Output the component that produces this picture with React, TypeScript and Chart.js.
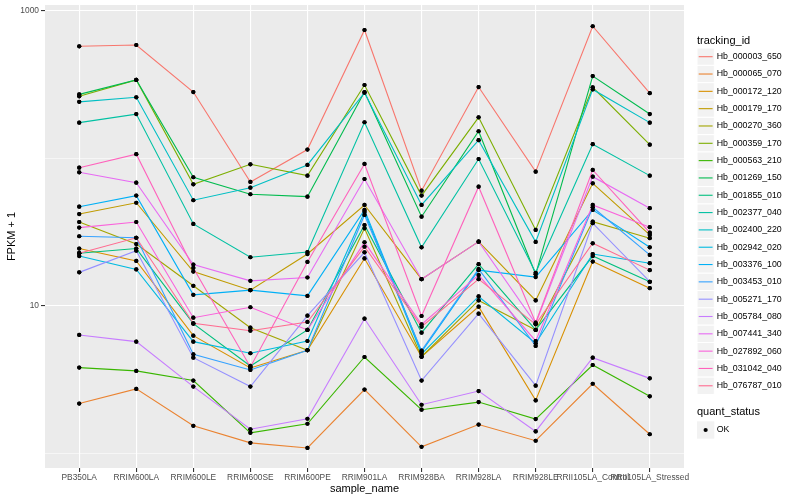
import React, { useEffect, useRef } from "react";
import { Chart, registerables } from "chart.js";

Chart.register(...registerables);

const FONT = '"Liberation Sans", Arial, Helvetica, sans-serif';

const categories = [
  "PB350LA",
  "RRIM600LA",
  "RRIM600LE",
  "RRIM600SE",
  "RRIM600PE",
  "RRIM901LA",
  "RRIM928BA",
  "RRIM928LA",
  "RRIM928LE",
  "RRII105LA_Control",
  "RRII105LA_Stressed",
];

const trackingIds = [
  "Hb_000003_650",
  "Hb_000065_070",
  "Hb_000172_120",
  "Hb_000179_170",
  "Hb_000270_360",
  "Hb_000359_170",
  "Hb_000563_210",
  "Hb_001269_150",
  "Hb_001855_010",
  "Hb_002377_040",
  "Hb_002400_220",
  "Hb_002942_020",
  "Hb_003376_100",
  "Hb_003453_010",
  "Hb_005271_170",
  "Hb_005784_080",
  "Hb_007441_340",
  "Hb_027892_060",
  "Hb_031042_040",
  "Hb_076787_010",
];

const seriesColors = [
  "#F8766D", "#EA8331", "#D89000", "#C09B00", "#A3A500",
  "#7CAE00", "#39B600", "#00BB4E", "#00BF7D", "#00C1A3",
  "#00BFC4", "#00BAE0", "#00B0F6", "#35A2FF", "#9590FF",
  "#C77CFF", "#E76BF3", "#FA62DB", "#FF62BC", "#FF6C91",
];

// FPKM + 1 values, one array per tracking_id, in category order
const hb_000003_650 = [576, 588, 282, 69.3, 115, 743, 60.5, 305, 81.4, 788, 277];
const hb_000065_070 = [2.18, 2.74, 1.54, 1.18, 1.09, 2.71, 1.11, 1.57, 1.22, 2.97, 1.35];
const hb_000172_120 = [24.5, 20.2, 6.29, 3.8, 5.01, 21.0, 4.53, 9.89, 2.29, 20.0, 13.2];
const hb_000179_170 = [42.0, 50.1, 17.1, 12.8, 22.5, 48.4, 15.2, 27.3, 10.9, 67.9, 30.3];
const hb_000270_360 = [37.1, 26.3, 13.7, 7.13, 5.01, 33.6, 4.53, 10.9, 6.88, 37.3, 28.8];
const hb_000359_170 = [264, 341, 66.8, 91.3, 76.5, 315, 56.0, 190, 32.8, 304, 124];
const hb_000563_210 = [3.82, 3.63, 3.12, 1.38, 1.59, 4.51, 1.98, 2.23, 1.71, 3.98, 2.44];
const hb_001269_150 = [272, 341, 74.6, 57.2, 55.1, 282, 40.3, 153, 16.4, 362, 200];
const hb_001855_010 = [22.8, 24.5, 7.59, 3.92, 6.88, 35.4, 6.59, 19.2, 6.88, 21.8, 14.6];
const hb_002377_040 = [175, 200, 36.0, 21.4, 23.2, 176, 25.0, 99.2, 16.8, 125, 76.5];
const hb_002400_220 = [242, 260, 52.1, 63.4, 90.4, 279, 48.4, 133, 27.2, 294, 175];
const hb_002942_020 = [21.8, 17.7, 5.73, 4.78, 5.79, 43.4, 4.73, 11.6, 5.59, 22.5, 19.5];
const hb_003376_100 = [47.1, 56.0, 11.9, 12.8, 11.7, 44.8, 4.88, 17.5, 15.7, 44.8, 25.0];
const hb_003453_010 = [29.7, 29.0, 4.7, 3.68, 5.01, 41.4, 4.98, 17.8, 5.36, 46.7, 22.2];
const hb_005271_170 = [16.9, 23.7, 4.46, 2.84, 8.6, 23.1, 3.12, 8.87, 2.88, 36.4, 14.6];
const hb_005784_080 = [6.36, 5.73, 2.84, 1.46, 1.72, 8.2, 2.14, 2.65, 1.41, 4.46, 3.23];
const hb_007441_340 = [80.6, 68.5, 19.1, 14.8, 15.6, 72.6, 15.2, 27.3, 7.61, 75.3, 46.0];
const hb_027892_060 = [34.0, 37.1, 8.33, 9.8, 6.88, 27.0, 7.51, 16.2, 5.79, 48.4, 34.2];
const hb_031042_040 = [86.6, 107, 18.1, 3.86, 19.9, 91.8, 8.55, 64.4, 7.7, 83.6, 31.4];
const hb_076787_010 = [22.8, 29.0, 7.63, 6.8, 7.79, 25.2, 7.24, 15.2, 7.51, 26.6, 17.5];

const seriesValues = [
  hb_000003_650, hb_000065_070, hb_000172_120, hb_000179_170, hb_000270_360,
  hb_000359_170, hb_000563_210, hb_001269_150, hb_001855_010, hb_002377_040,
  hb_002400_220, hb_002942_020, hb_003376_100, hb_003453_010, hb_005271_170,
  hb_005784_080, hb_007441_340, hb_027892_060, hb_031042_040, hb_076787_010,
];

const yGridValues = [1, 10, 100, 1000];
const yLabelled = [10, 1000];

const quantStatus = ["OK"];

export default function App() {
  const ref = useRef<HTMLCanvasElement | null>(null);

  useEffect(() => {
    const canvas = ref.current;
    if (!canvas) return;

    const datasets = seriesValues.map((vals, i) => ({
      label: trackingIds[i],
      data: vals.map((v, j) => ({ x: j, y: v })),
      borderColor: seriesColors[i],
      backgroundColor: seriesColors[i],
      borderWidth: 1.1,
      pointRadius: 2.1,
      pointHoverRadius: 2.1,
      pointBackgroundColor: "#000000",
      pointBorderColor: "#000000",
      pointBorderWidth: 0,
      tension: 0,
      fill: false,
      order: seriesValues.length - i,
    }));

    const panelPlugin = {
      id: "panelBg",
      beforeDraw(chart: any) {
        const { ctx, chartArea } = chart;
        ctx.save();
        ctx.fillStyle = "#FFFFFF";
        ctx.fillRect(0, 0, chart.width, chart.height);
        ctx.fillStyle = "#EBEBEB";
        ctx.fillRect(
          chartArea.left,
          chartArea.top,
          chartArea.right - chartArea.left,
          chartArea.bottom - chartArea.top
        );
        ctx.restore();
      },
    };

    const pointsOnTop = {
      id: "pointsOnTop",
      afterDatasetsDraw(chart: any) {
        const ctx = chart.ctx;
        ctx.save();
        chart.data.datasets.forEach((_: any, i: number) => {
          const meta = chart.getDatasetMeta(i);
          meta.data.forEach((el: any) => el.draw(ctx, chart.chartArea));
        });
        ctx.restore();
      },
    };

    const legendPlugin = {
      id: "ggLegend",
      afterDraw(chart: any) {
        const ctx = chart.ctx;
        const x0 = 697;
        const keySize = 17.3;
        ctx.save();
        ctx.textBaseline = "middle";
        ctx.textAlign = "left";
        ctx.fillStyle = "#000000";
        ctx.font = `11px ${FONT}`;
        ctx.fillText("tracking_id", x0, 40.5);
        trackingIds.forEach((id, i) => {
          const cy = 56.7 + i * 17.32;
          ctx.fillStyle = "#F2F2F2";
          ctx.fillRect(x0, cy - keySize / 2, keySize, keySize);
          ctx.strokeStyle = "#FFFFFF";
          ctx.lineWidth = 1;
          ctx.strokeRect(x0, cy - keySize / 2, keySize, keySize);
          ctx.strokeStyle = seriesColors[i];
          ctx.lineWidth = 1.1;
          ctx.beginPath();
          ctx.moveTo(x0 + 1.7, cy);
          ctx.lineTo(x0 + keySize - 1.7, cy);
          ctx.stroke();
          ctx.fillStyle = "#000000";
          ctx.font = `8.8px ${FONT}`;
          ctx.fillText(id, 716.7, cy);
        });
        ctx.font = `11px ${FONT}`;
        ctx.fillStyle = "#000000";
        ctx.fillText("quant_status", x0, 412.3);
        quantStatus.forEach((s, i) => {
          const cy = 430 + i * 17.32;
          ctx.fillStyle = "#F2F2F2";
          ctx.fillRect(x0, cy - keySize / 2, keySize, keySize);
          ctx.fillStyle = "#000000";
          ctx.beginPath();
          ctx.arc(x0 + keySize / 2, cy, 2.1, 0, Math.PI * 2);
          ctx.fill();
          ctx.font = `8.8px ${FONT}`;
          ctx.fillText(s, 716.7, cy);
        });
        ctx.restore();
      },
    };

    const chart = new Chart(canvas, {
      type: "line",
      data: { datasets: datasets as any },
      options: {
        animation: false,
        responsive: false,
        devicePixelRatio: 1,
        parsing: true,
        layout: { padding: { left: 0, right: 116, top: 5, bottom: 0 } },
        plugins: {
          legend: { display: false },
          tooltip: { enabled: false },
        },
        scales: {
          x: {
            type: "linear",
            min: -0.6,
            max: 10.6,
            afterBuildTicks: (s: any) => {
              s.ticks = categories.map((_, i) => ({ value: i }));
            },
            afterFit: (s: any) => {
              s.height = 32;
              s.paddingLeft = 0;
              s.paddingRight = 0;
            },
            ticks: {
              autoSkip: false,
              maxRotation: 0,
              minRotation: 0,
              padding: 1,
              color: "#4D4D4D",
              font: { family: FONT, size: 8.4 },
              callback: (_v: any, index: number) => categories[index] ?? "",
            },
            grid: {
              color: "#FFFFFF",
              lineWidth: 1.1,
              tickLength: 4,
              tickColor: "#333333",
              tickWidth: 1.1,
            },
            border: { display: false },
            title: {
              display: true,
              text: "sample_name",
              color: "#000000",
              font: { family: FONT, size: 11 },
              padding: { top: 0, bottom: 4.4 },
            },
          },
          y: {
            type: "logarithmic",
            min: 0.797,
            max: 1098,
            afterBuildTicks: (s: any) => {
              s.ticks = yGridValues.map((v) => ({ value: v }));
            },
            afterFit: (s: any) => {
              s.width = 45;
              s.paddingTop = 0;
              s.paddingBottom = 0;
            },
            ticks: {
              padding: 2,
              color: "#4D4D4D",
              font: { family: FONT, size: 8.4 },
              callback: (v: any) => (yLabelled.includes(Number(v)) ? String(v) : ""),
            },
            grid: {
              color: "#FFFFFF",
              lineWidth: (c: any) =>
                c.tick && yLabelled.includes(c.tick.value) ? 1.1 : 0.55,
              tickLength: 4,
              tickWidth: 1.1,
              tickColor: (c: any) =>
                c.tick && yLabelled.includes(c.tick.value) ? "#333333" : "rgba(0,0,0,0)",
            },
            border: { display: false },
            title: {
              display: true,
              text: "FPKM + 1",
              color: "#000000",
              font: { family: FONT, size: 11 },
              padding: { top: 5.4, bottom: 0 },
            },
          },
        },
      } as any,
      plugins: [panelPlugin, pointsOnTop, legendPlugin],
    });

    return () => chart.destroy();
  }, []);

  return (
    <div style={{ position: "fixed", left: 0, top: 0, width: 800, height: 500, background: "#fff" }}>
      <canvas ref={ref} width={800} height={500} style={{ display: "block" }} />
    </div>
  );
}
